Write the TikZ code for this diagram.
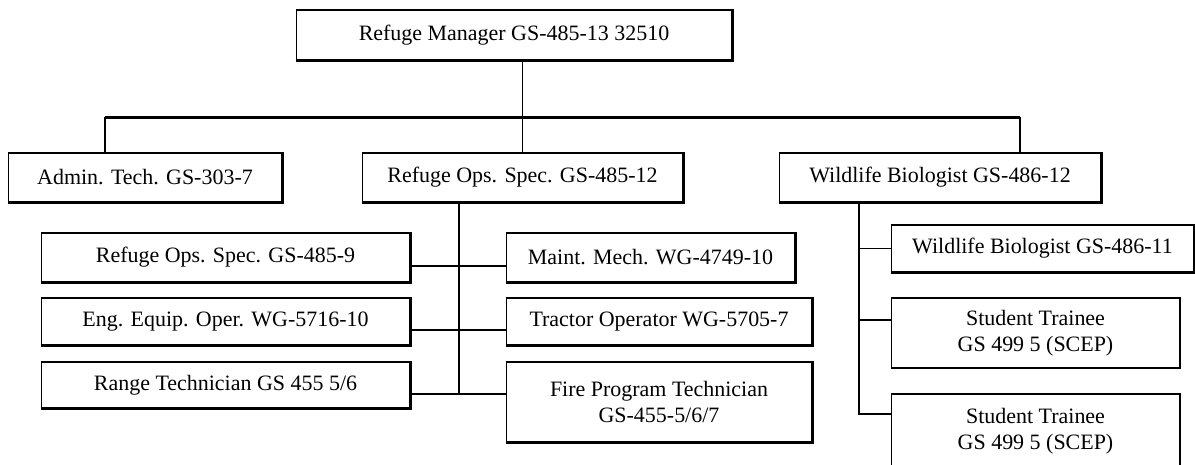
\documentclass[tikz,border=0pt]{standalone}
\usepackage{fontspec}
\setmainfont{Liberation Serif}
\begin{document}
\begin{tikzpicture}[x=0.02cm, y=-0.02cm,
		post/.style={draw, line width=0.6pt, fill=white, inner sep=0pt, align=center, font=\fontsize{12.5}{15}\selectfont},
		link/.style={line width=0.6pt},
		bus/.style={line width=1.7pt},
		midbus/.style={line width=1.2pt},
		spine/.style={line width=1.6pt}]
	\useasboundingbox (0,0) rectangle (1195,464);
	% boxes
	\node (mgr) at (514, 35) [post, minimum width=8.72cm, minimum height=1.00cm] {Refuge Manager GS-485-13 32510};
	\node (admin) at (145, 177.5) [post, minimum width=5.48cm, minimum height=0.98cm] {Admin. Tech. GS-303-7};
	\node (ops12) at (522.5, 177.5) [post, minimum width=6.42cm, minimum height=0.98cm] {Refuge Ops. Spec. GS-485-12};
	\node (bio12) at (940, 177.5) [post, minimum width=6.44cm, minimum height=0.98cm] {Wildlife Biologist GS-486-12};
	\node (ops9) at (225.5, 257.5) [post, minimum width=7.38cm, minimum height=0.98cm] {Refuge Ops. Spec. GS-485-9};
	\node (eng) at (225.5, 321.5) [post, minimum width=7.38cm, minimum height=0.94cm] {Eng. Equip. Oper. WG-5716-10};
	\node (range) at (225.5, 385) [post, minimum width=7.38cm, minimum height=0.92cm] {Range Technician GS 455 5/6};
	\node (maint) at (650.5, 257.5) [post, minimum width=5.78cm, minimum height=0.98cm] {Maint. Mech. WG-4749-10};
	\node (tractor) at (659, 321.5) [post, minimum width=6.12cm, minimum height=0.94cm] {Tractor Operator WG-5705-7};
	\node (fire) at (659, 402) [post, minimum width=6.12cm, minimum height=1.60cm] {Fire Program Technician\\GS-455-5/6/7};
	\node (bio11) at (1042.5, 248.5) [post, minimum width=6.06cm, minimum height=0.94cm] {Wildlife Biologist GS-486-11};
	\node (st1) at (1035.5, 333) [post, minimum width=5.78cm, minimum height=1.40cm] {Student Trainee\\GS 499 5 (SCEP)};
	\node (st2) at (1035.5, 436) [post, minimum width=5.78cm, minimum height=1.68cm, text depth=0.28cm] {Student Trainee\\GS 499 5 (SCEP)};
	% shadow edges
	\foreach \n in {mgr,admin,ops12,bio12,ops9,eng,range,maint,tractor,fire,bio11}
		\draw[line width=1.6pt] (\n.south west) -- (\n.south east) -- (\n.north east);
	% top level
	\coordinate (busL) at (105, 117);
	\coordinate (busR) at (1020, 117);
	\draw[link] (mgr.south -| ops12.north) -- (ops12.north);
	\draw[bus] (busL) -- (busR);
	\draw[bus] (busL) -- (busL |- admin.north);
	\draw[link] (busR) -- (busR |- bio12.north);
	% ops group
	\coordinate (r1) at (459, 266);
	\coordinate (r2) at (459, 330);
	\coordinate (opsend) at (459, 394);
	\draw[link] (opsend |- ops12.south) -- (opsend);
	\draw[link] (ops9.east |- r1) -- (maint.west |- r1);
	\draw[midbus] (eng.east |- r2) -- (tractor.west |- r2);
	\draw[link] (range.east |- opsend) -- (fire.west |- opsend);
	% biology group
	\coordinate (b2) at (859, 320);
	\coordinate (bioend) at (859, 414);
	\draw[spine] (bioend |- bio12.south) -- (bioend) -- (bioend -| st2.west);
	\draw[link] (bio11.west -| bioend) -- (bio11.west);
	\draw[link] (b2) -- (b2 -| st1.west);
\end{tikzpicture}
\end{document}
